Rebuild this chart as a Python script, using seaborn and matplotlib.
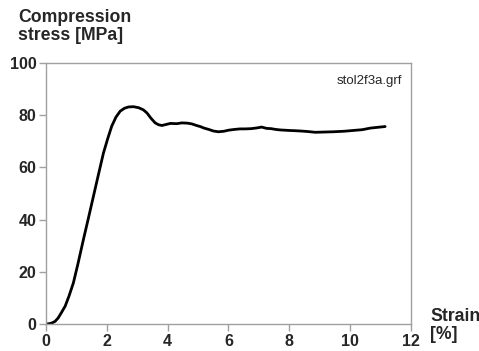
import matplotlib
matplotlib.use("Agg")
import matplotlib.pyplot as plt
import seaborn as sns
import pandas as pd

strain = [0.0, 0.1, 0.2, 0.3, 0.4, 0.5, 0.63, 0.76, 0.9, 1.05, 1.23, 1.4, 1.56, 1.72, 1.89,
          2.03, 2.16, 2.3, 2.44, 2.58, 2.71, 2.88, 3.05, 3.2, 3.32, 3.45, 3.59, 3.7, 3.81,
          3.95, 4.09, 4.3, 4.47, 4.65, 4.8, 4.95, 5.07, 5.2, 5.35, 5.5, 5.67, 5.85, 6.0,
          6.2, 6.38, 6.55, 6.75, 6.95, 7.09, 7.25, 7.4, 7.55, 7.7, 7.85, 8.0, 8.2, 8.36,
          8.6, 8.85, 9.15, 9.45, 9.8, 10.1, 10.4, 10.66, 10.9, 11.15]
stress = [0.0, 0.1, 0.4, 1.0, 2.3, 4.2, 6.8, 10.8, 15.7, 23.0, 32.3, 40.8, 48.9, 57.0, 65.5,
          71.0, 75.7, 79.2, 81.5, 82.6, 83.1, 83.2, 82.8, 82.0, 80.8, 78.8, 77.0, 76.3, 76.0,
          76.4, 76.8, 76.7, 77.0, 76.9, 76.6, 76.0, 75.6, 75.0, 74.5, 73.9, 73.6, 73.8, 74.2,
          74.5, 74.7, 74.7, 74.8, 75.1, 75.4, 74.9, 74.8, 74.5, 74.3, 74.2, 74.1, 74.0, 73.9,
          73.7, 73.4, 73.5, 73.6, 73.8, 74.1, 74.4, 75.0, 75.3, 75.6]

df = pd.DataFrame({"strain": strain, "stress": stress})

sns.set_theme(style="white")
plt.rcParams['font.family'] = ['Liberation Sans', 'DejaVu Sans']

fig = plt.figure(figsize=(4.79, 3.51), dpi=100)
ax = fig.add_axes([0.096, 0.077, 0.762, 0.744])
sns.lineplot(data=df, x="strain", y="stress", ax=ax, color="black", linewidth=2.0)

ax.set_xlim(0, 12)
ax.set_ylim(0, 100)
ax.set_xticks(range(0, 13, 2))
ax.set_yticks(range(0, 101, 20))
ax.set_xlabel("")
ax.set_ylabel("")
for s in ax.spines.values():
    s.set_color("#a0a0a0")
    s.set_linewidth(1.0)
ax.tick_params(axis="both", which="major", direction="out", length=5, width=1,
               color="#a0a0a0", labelsize=11.5, pad=2, bottom=True, left=True)
for lab in ax.get_xticklabels() + ax.get_yticklabels():
    lab.set_fontweight("bold")

ax.text(0.975, 0.93, "stol2f3a.grf", transform=ax.transAxes, ha="right", va="center", fontsize=9.5)
fig.text(18/479, 1 - 9/351, "Compression\nstress [MPa]", ha="left", va="top",
         fontsize=12.7, fontweight="bold", linespacing=1.05)
fig.text(430/479, 1 - 308/351, "Strain\n[%]", ha="left", va="top",
         fontsize=12.7, fontweight="bold", linespacing=1.05)

fig.savefig("out.png", dpi=100)
